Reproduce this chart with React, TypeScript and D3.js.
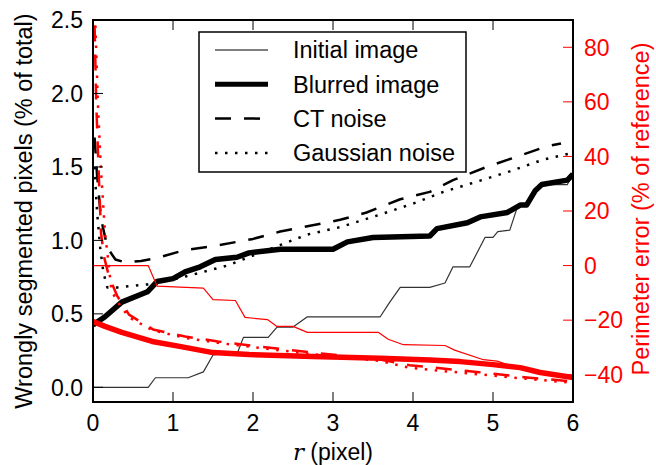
import React from 'react';
import * as d3 from 'd3';

// r (pixel) sample points and values
const initR = [0, 0.69, 0.78, 1.19, 1.38, 1.5, 1.81, 1.88, 2.19, 2.3, 2.5, 2.68, 3.59, 3.71, 3.84, 4.21, 4.4, 4.5, 4.71, 4.9, 5.0, 5.06, 5.21, 5.3, 5.44, 5.53, 5.61, 5.93, 6.0];
const initPixels = [0, 0, 0.065, 0.065, 0.105, 0.22, 0.24, 0.34, 0.34, 0.41, 0.41, 0.48, 0.48, 0.58, 0.68, 0.68, 0.71, 0.82, 0.82, 1.02, 1.02, 1.06, 1.07, 1.22, 1.25, 1.34, 1.38, 1.38, 1.46];

const blurR = [0, 0.15, 0.36, 0.68, 0.8, 1.0, 1.15, 1.34, 1.53, 1.8, 1.95, 2.34, 3.0, 3.18, 3.5, 4.21, 4.3, 4.68, 4.84, 5.18, 5.34, 5.42, 5.53, 5.61, 5.93, 6.0];
const blurPixels = [0.425, 0.48, 0.58, 0.65, 0.72, 0.74, 0.785, 0.82, 0.87, 0.885, 0.915, 0.94, 0.94, 0.99, 1.02, 1.03, 1.08, 1.12, 1.16, 1.19, 1.24, 1.24, 1.34, 1.38, 1.41, 1.45];

const ctR = [0.02, 0.05, 0.1, 0.18, 0.28, 0.4, 0.6, 0.8, 1.15, 1.5, 2.0, 2.34, 3.09, 3.42, 3.84, 4.21, 4.5, 4.92, 5.3, 5.67, 5.85];
const ctPixels = [1.7, 1.45, 1.15, 0.95, 0.87, 0.85, 0.86, 0.88, 0.935, 0.96, 1.01, 1.06, 1.14, 1.19, 1.28, 1.33, 1.41, 1.5, 1.57, 1.64, 1.66];

const gaussR = [0.02, 0.05, 0.09, 0.13, 0.18, 0.31, 0.68, 0.8, 1.09, 1.34, 1.69, 1.92, 2.3, 2.68, 3.09, 3.5, 4.0, 4.38, 4.8, 5.21, 5.63, 5.95];
const gaussPixels = [1.5, 1.2, 0.95, 0.78, 0.68, 0.68, 0.7, 0.71, 0.745, 0.78, 0.83, 0.88, 0.96, 1.04, 1.09, 1.16, 1.25, 1.33, 1.4, 1.47, 1.55, 1.59];

// perimeter error (% of reference), right axis
const initPerimR = [0, 0.69, 0.8, 1.38, 1.5, 1.78, 1.9, 2.18, 2.3, 2.5, 2.68, 3.57, 3.69, 3.88, 4.4, 4.52, 4.88, 5.05, 5.2, 5.35, 5.55, 6.0];
const initPerim = [0, 0, -7.5, -8.3, -12.5, -12.8, -19, -19.8, -22.3, -22.3, -24.5, -24.5, -27, -29, -29.3, -31, -34.5, -35, -36.5, -37.5, -39.5, -41];

const blurPerimR = [0, 0.15, 0.36, 0.74, 1.1, 1.5, 1.95, 2.75, 3.59, 4.21, 4.59, 5.0, 5.34, 5.59, 6.0];
const blurPerim = [-20.5, -22.3, -24.5, -27.8, -29.7, -31.9, -32.6, -33.3, -34, -34.6, -35.2, -36.3, -37.4, -39.2, -41];

const ctPerimR = [0.02, 0.04, 0.07, 0.1, 0.14, 0.2, 0.3, 0.45, 0.75, 1.15, 1.56, 2.03, 2.75, 3.59, 3.96, 4.8, 5.42, 6.0];
const ctPerim = [88, 60, 35, 12, 3, -4, -11, -18, -23.4, -26, -27.8, -29.5, -31.9, -34.4, -36.5, -39, -41, -42.5];

const gaussPerimR = [0.03, 0.06, 0.1, 0.15, 0.19, 0.23, 0.3, 0.45, 0.75, 1.15, 1.56, 2.03, 2.75, 3.59, 3.96, 4.8, 5.42, 6.0];
const gaussPerim = [88, 60, 35, 12, 2, -9, -13, -19, -23.8, -26.5, -28.3, -30, -32.5, -35, -37.5, -39.8, -41.5, -43];

const xTicks = [0, 1, 2, 3, 4, 5, 6];
const leftTicks = [0.0, 0.5, 1.0, 1.5, 2.0, 2.5];
const rightTicks = [-40, -20, 0, 20, 40, 60, 80];
const legendLabels = ['Initial image', 'Blurred image', 'CT noise', 'Gaussian noise'];

const W = 656;
const H = 465;
const margin = { top: 20, right: 83, bottom: 63, left: 93 };
const font = "'Liberation Sans', Arial, sans-serif";
const RED = '#ff0000';

export default function App() {
  const x = d3.scaleLinear().domain([0, 6]).range([margin.left, W - margin.right]);
  const yL = d3.scaleLinear().domain([-0.1, 2.5]).range([H - margin.bottom, margin.top]);
  const yR = d3.scaleLinear().domain([-50, 90]).range([H - margin.bottom, margin.top]);

  const line = (xs: number[], ys: number[], ys2: d3.ScaleLinear<number, number>) =>
    d3.line<number>().x((_, i) => x(xs[i])).y(d => ys2(d))(ys) || '';

  const x0 = x(0), x1 = x(6), yTop = margin.top, yBot = H - margin.bottom;
  const tl = 10;

  const legend = [
    { w: 1.2, dash: undefined },
    { w: 5, dash: undefined },
    { w: 2.5, dash: '16,13' },
    { w: 2.5, dash: '2.5,7.5' },
  ];

  return (
    <svg width={W} height={H} style={{ position: 'absolute', left: 0, top: 0, background: '#fff' }}>
      <defs>
        <clipPath id="plot">
          <rect x={x0} y={yTop} width={x1 - x0} height={yBot - yTop} />
        </clipPath>
      </defs>
      <g clipPath="url(#plot)" fill="none" strokeLinejoin="round">
        <path d={line(initR, initPixels, yL)} stroke="#333" strokeWidth={1.2} />
        <path d={line(blurR, blurPixels, yL)} stroke="#000" strokeWidth={5.5} />
        <path d={line(ctR, ctPixels, yL)} stroke="#000" strokeWidth={2.5} strokeDasharray="16,13" />
        <path d={line(gaussR, gaussPixels, yL)} stroke="#000" strokeWidth={2.5} strokeDasharray="2.5,7.5" />
        <path d={line(initPerimR, initPerim, yR)} stroke={RED} strokeWidth={1.2} />
        <path d={line(blurPerimR, blurPerim, yR)} stroke={RED} strokeWidth={5.5} />
        <path d={line(ctPerimR, ctPerim, yR)} stroke={RED} strokeWidth={2.5} strokeDasharray="16,13" />
        <path d={line(gaussPerimR, gaussPerim, yR)} stroke={RED} strokeWidth={2.5} strokeDasharray="2.5,7.5" />
      </g>

      {/* ticks */}
      <g stroke="#000" strokeWidth={1}>
        {xTicks.map(t => (
          <g key={'x' + t}>
            <line x1={x(t)} x2={x(t)} y1={yBot} y2={yBot - tl} />
            <line x1={x(t)} x2={x(t)} y1={yTop} y2={yTop + tl} />
          </g>
        ))}
        {leftTicks.map(t => (
          <line key={'l' + t} x1={x0} x2={x0 + tl} y1={yL(t)} y2={yL(t)} />
        ))}
      </g>
      <g stroke={RED} strokeWidth={1}>
        {rightTicks.map(t => (
          <line key={'r' + t} x1={x1 - tl} x2={x1} y1={yR(t)} y2={yR(t)} />
        ))}
      </g>
      <rect x={x0} y={yTop} width={x1 - x0} height={yBot - yTop} fill="none" stroke="#000" strokeWidth={2} />

      {/* tick labels */}
      <g fontFamily={font} fontSize={23} fill="#000">
        {xTicks.map(t => (
          <text key={'xt' + t} x={x(t)} y={yBot + 29} textAnchor="middle">{t}</text>
        ))}
        {leftTicks.map(t => (
          <text key={'lt' + t} x={x0 - 10} y={yL(t)} dy="0.36em" textAnchor="end">{t.toFixed(1)}</text>
        ))}
      </g>
      <g fontFamily={font} fontSize={23} fill={RED}>
        {rightTicks.map(t => (
          <text key={'rt' + t} x={x1 + 11} y={yR(t)} dy="0.36em" textAnchor="start">{t < 0 ? '\u2212' + Math.abs(t) : t}</text>
        ))}
      </g>

      {/* axis labels */}
      <text x={(x0 + x1) / 2} y={460} textAnchor="middle" fontFamily={font} fontSize={23}>
        <tspan fontFamily="'DejaVu Serif', 'Liberation Serif', serif" fontStyle="italic">r</tspan> (pixel)
      </text>
      <text transform={`translate(32,${(yTop + yBot) / 2}) rotate(-90)`} textAnchor="middle" fontFamily={font} fontSize={23.5}>
        Wrongly segmented pixels (% of total)
      </text>
      <text transform={`translate(649,${(yTop + yBot) / 2 - 2}) rotate(-90)`} textAnchor="middle" fontFamily={font} fontSize={23.5} fill={RED}>
        Perimeter error (% of reference)
      </text>

      {/* legend */}
      <g>
        <rect x={199} y={32} width={267} height={140} fill="#fff" stroke="#000" strokeWidth={1.5} />
        {legendLabels.map((lab, i) => {
          const cy = 50 + i * 34.3;
          return (
            <g key={lab}>
              <line x1={215} x2={268} y1={cy} y2={cy} stroke="#000" strokeWidth={legend[i].w} strokeDasharray={legend[i].dash} />
              <text x={293} y={cy} dy="0.36em" fontFamily={font} fontSize={23.5}>{lab}</text>
            </g>
          );
        })}
      </g>
    </svg>
  );
}
